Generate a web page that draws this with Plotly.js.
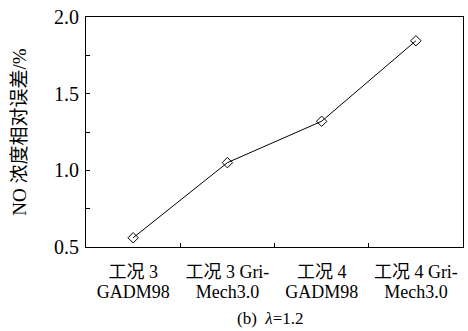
<!DOCTYPE html>
<html>
<head>
<meta charset="utf-8">
<script src="https://cdn.plot.ly/plotly-3.0.1.min.js"></script>
<style>html,body{margin:0;padding:0;background:#fff;}#chart{width:468px;height:331px;}</style>
</head>
<body>
<div id="chart"></div>
<script>
const labelLine1 = ["工况 3", "工况 3 Gri-", "工况 4", "工况 4 Gri-"];
const labelLine2 = ["GADM98", "Mech3.0", "GADM98", "Mech3.0"];
const values = [0.56, 1.05, 1.32, 1.845];
const yTickVals = [0.5, 0.75, 1.0, 1.25, 1.5, 1.75, 2.0];
const yTickText = ["0.5", "", "1.0", "", "1.5", "", "2.0"];
const yTitle = "NO 浓度相对误差/%";
const caption = "(b)  <i>λ</i>=1.2";

const FONT = "'Liberation Serif', 'Times New Roman', 'Noto Sans CJK SC', serif";

Plotly.newPlot("chart", [{
  x: labelLine1,
  y: values,
  type: "scatter",
  mode: "lines+markers",
  line: {color: "#000", width: 1},
  marker: {symbol: "diamond-open", size: 8, color: "#000", line: {width: 1, color: "#000"}},
  showlegend: false
}, {
  x: labelLine1,
  y: values,
  xaxis: "x2",
  type: "scatter",
  mode: "markers",
  marker: {opacity: 0},
  hoverinfo: "skip",
  showlegend: false
}], {
  width: 468, height: 331,
  margin: {l: 86, r: 5, t: 17, b: 84},
  paper_bgcolor: "#fff", plot_bgcolor: "#fff",
  font: {family: FONT, size: 19, color: "#000"},
  xaxis: {
    type: "category",
    range: [-0.5, 3.5],
    tickson: "boundaries",
    tickangle: 0,
    ticks: "inside", ticklen: 4, tickcolor: "#000", tickwidth: 1,
    showline: true, mirror: true, linecolor: "#000", linewidth: 1,
    showgrid: false, zeroline: false,
    ticklabelstandoff: 8,
    tickfont: {family: FONT, size: 18, color: "#000"}
  },
  xaxis2: {
    type: "category",
    overlaying: "x",
    anchor: "y",
    side: "bottom",
    range: [-0.5, 3.5],
    tickmode: "array", tickvals: labelLine1, ticktext: labelLine2,
    tickangle: 0,
    ticks: "", showline: false, showgrid: false, zeroline: false,
    ticklabelstandoff: 32,
    tickfont: {family: FONT, size: 18, color: "#000"}
  },
  yaxis: {
    range: [0.5, 2.0],
    tickmode: "array", tickvals: yTickVals, ticktext: yTickText,
    ticks: "inside", ticklen: 4, tickcolor: "#000", tickwidth: 1,
    showline: true, mirror: true, linecolor: "#000", linewidth: 1,
    showgrid: false, zeroline: false,
    ticklabelstandoff: 2,
    tickfont: {family: FONT, size: 20, color: "#000"},
    title: {text: yTitle, font: {family: FONT, size: 19, color: "#000"}, standoff: 22}
  },
  annotations: [{
    text: caption, xref: "paper", yref: "paper", x: 0.49, y: 0,
    yshift: -71, xanchor: "center", yanchor: "middle", showarrow: false,
    font: {family: FONT, size: 17, color: "#000"}
  }]
}, {displayModeBar: false, staticPlot: true});
</script>
</body>
</html>
